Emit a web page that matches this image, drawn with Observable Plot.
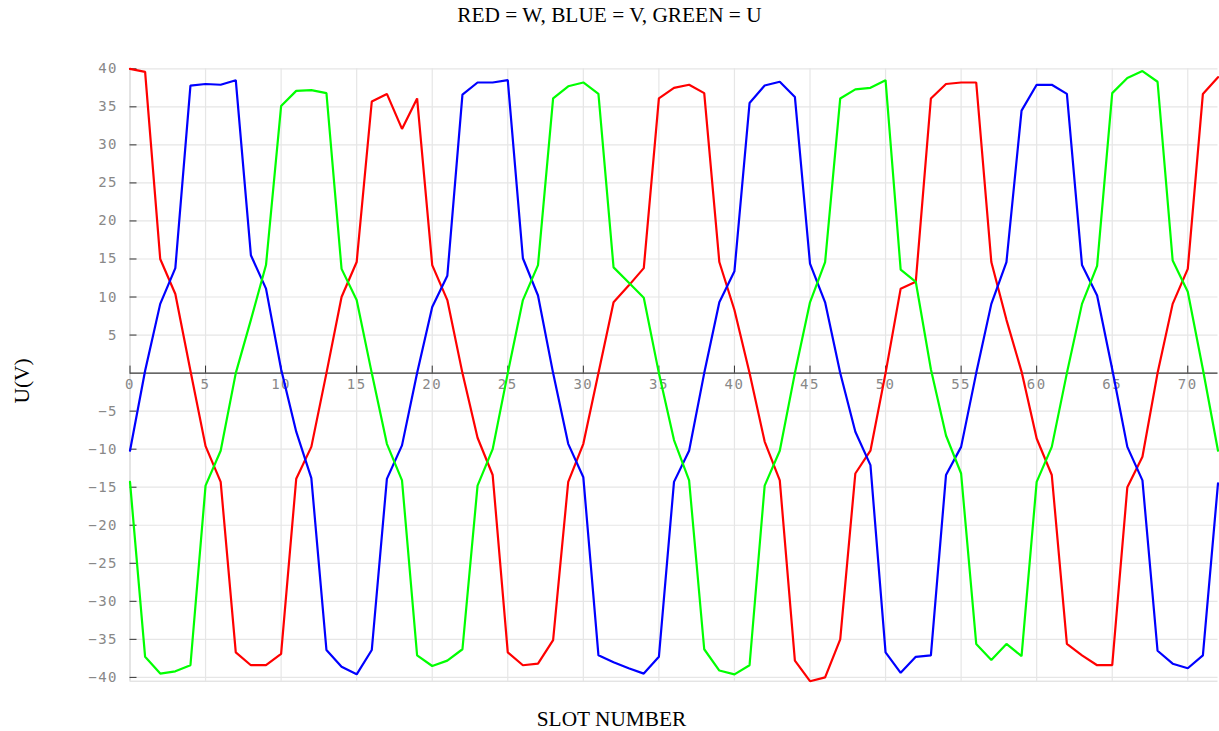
<!DOCTYPE html>
<html>
<head>
<meta charset="utf-8">
<script src="https://cdn.jsdelivr.net/npm/d3@7"></script>
<script src="https://cdn.jsdelivr.net/npm/@observablehq/plot@0.6"></script>
<style>
html, body { margin: 0; padding: 0; background: #fff; overflow: hidden; }
#title { height: 30px; line-height: 30px; text-align: center; font-family: "Liberation Serif", "Times New Roman", serif; font-size: 21.33px; color: #000; white-space: nowrap; }
</style>
</head>
<body>
<div id="title">RED = W, BLUE = V, GREEN = U</div>
<div id="chart"></div>
<script>
const slots = [0,1,2,3,4,5,6,7,8,9,10,11,12,13,14,15,16,17,18,19,20,21,22,23,24,25,26,27,28,29,30,31,32,33,34,35,36,37,38,39,40,41,42,43,44,45,46,47,48,49,50,51,52,53,54,55,56,57,58,59,60,61,62,63,64,65,66,67,68,69,70,71,72];

const redW = [40, 39.6, 15.0, 10.4, 0.3, -9.6, -14.3, -36.7, -38.4, -38.4, -36.9, -13.9, -9.7, 0, 10.0, 14.6, 35.7, 36.7, 32.1, 36.1, 14.2, 9.6, 0, -8.5, -13.4, -36.7, -38.4, -38.2, -35.1, -14.3, -9.3, 0, 9.3, 11.5, 13.8, 36.1, 37.5, 37.9, 36.8, 14.6, 8.3, 0, -9.0, -14.1, -37.8, -40.5, -40.0, -35.0, -13.2, -10.2, 0, 11.1, 12.0, 36.1, 38.0, 38.2, 38.2, 14.6, 7.0, 0.2, -8.6, -13.4, -35.6, -37.1, -38.4, -38.4, -15.0, -11.0, 0, 9.1, 13.7, 36.7, 38.9];

const blueV = [-10.2, 0.3, 9.1, 13.8, 37.8, 38.0, 37.9, 38.5, 15.5, 11.1, 0.5, -7.7, -13.8, -36.4, -38.6, -39.6, -36.4, -13.9, -9.5, 0, 8.7, 12.8, 36.6, 38.2, 38.2, 38.5, 15.1, 10.2, 0, -9.3, -13.7, -37.1, -38.0, -38.8, -39.5, -37.3, -14.3, -10.2, 0, 9.3, 13.4, 35.5, 37.8, 38.3, 36.3, 14.4, 9.3, 0, -7.7, -12.1, -36.7, -39.4, -37.3, -37.1, -13.4, -9.7, 0, 9.1, 14.6, 34.5, 37.9, 37.9, 36.7, 14.2, 10.2, 0.5, -9.7, -14.1, -36.5, -38.2, -38.8, -37.1, -14.5];

const greenU = [-14.3, -37.3, -39.5, -39.2, -38.4, -14.8, -10.2, 0, 7.0, 14.2, 35.1, 37.1, 37.2, 36.8, 13.7, 9.6, 0, -9.3, -14.1, -37.1, -38.5, -37.8, -36.3, -14.8, -10.0, 0, 9.6, 14.2, 36.1, 37.7, 38.2, 36.7, 13.9, 11.9, 9.9, 0, -8.8, -14.1, -36.3, -39.1, -39.6, -38.4, -14.8, -10.2, 0, 9.3, 14.6, 36.1, 37.3, 37.5, 38.5, 13.6, 12.0, 0.5, -8.2, -13.2, -35.6, -37.7, -35.6, -37.2, -14.3, -9.7, 0, 9.1, 14.1, 36.8, 38.8, 39.7, 38.3, 14.8, 10.7, 0.5, -10.2];

const xTicks = [0,5,10,15,20,25,30,35,40,45,50,55,60,65,70];
const yTicks = [40,35,30,25,20,15,10,5,-5,-10,-15,-20,-25,-30,-35,-40];
const yGrid = [40,35,30,25,20,15,10,5,-5,-10,-15,-20,-25,-30,-35,-40];
const xDomain = [0, 72];
const yDomain = [-40.5, 40];

const titleText = "RED = W, BLUE = V, GREEN = U";
const xLabel = "SLOT NUMBER";
const yLabel = "U(V)";

const series = [
  {name: "W", color: "#ff0000", values: redW},
  {name: "V", color: "#0000ff", values: blueV},
  {name: "U", color: "#00ff00", values: greenU}
];

const rows = series.flatMap(s => slots.map((slot, i) => ({slot, value: s.values[i], name: s.name})));

const mono = "DejaVu Sans Mono";
const serif = "Liberation Serif, Times New Roman, serif";

const chart = Plot.plot({
  width: 1219,
  height: 701,
  marginTop: 38.3,
  marginBottom: 50.3,
  marginLeft: 129.5,
  marginRight: 1.5,
  x: {domain: xDomain, axis: null},
  y: {domain: yDomain, axis: null},
  color: {domain: series.map(s => s.name), range: series.map(s => s.color)},
  style: {background: "white", overflow: "visible"},
  marks: [
    Plot.ruleY(yGrid, {stroke: "#e6e6e6", strokeWidth: 1.2}),
    Plot.ruleX(xTicks, {stroke: "#e6e6e6", strokeWidth: 1.2}),
    Plot.ruleX([xDomain[0]], {stroke: "#d8d8d8"}),
    Plot.ruleY([yDomain[0]], {stroke: "#d8d8d8"}),
    Plot.ruleY(yTicks, {x1: xDomain[0], x2: xDomain[0], insetRight: -7, stroke: "#333"}),
    Plot.ruleX(xTicks, {y1: 0, y2: 0, insetBottom: 7, stroke: "#333"}),
    Plot.text(xTicks, {x: d => d, y: 0, dy: 11, text: d => String(d), fill: "#888", fontFamily: mono, fontSize: 14}),
    Plot.text(yTicks, {x: xDomain[0], y: d => d, dx: -12, textAnchor: "end", text: d => String(d).replace("-", "\u2212"), fill: "#888", fontFamily: mono, fontSize: 14}),
    Plot.ruleY([0], {stroke: "#000", strokeWidth: 1}),
    Plot.line(rows, {x: "slot", y: "value", z: "name", stroke: "name", strokeWidth: 2.2, strokeLinejoin: "miter"}),
    Plot.text([yLabel], {frameAnchor: "left", textAnchor: "middle", dx: -108, dy: 6, rotate: -90, fontFamily: serif, fontSize: 21.33, fill: "#000"}),
    Plot.text([xLabel], {frameAnchor: "bottom", dy: 45, dx: -62.5, fontFamily: serif, fontSize: 21.33, fill: "#000"})
  ]
});

chart.querySelectorAll('g[font-family="DejaVu Sans Mono"]').forEach(g => g.style.letterSpacing = "1.5px");
document.getElementById("chart").appendChild(chart);
</script>
</body>
</html>
